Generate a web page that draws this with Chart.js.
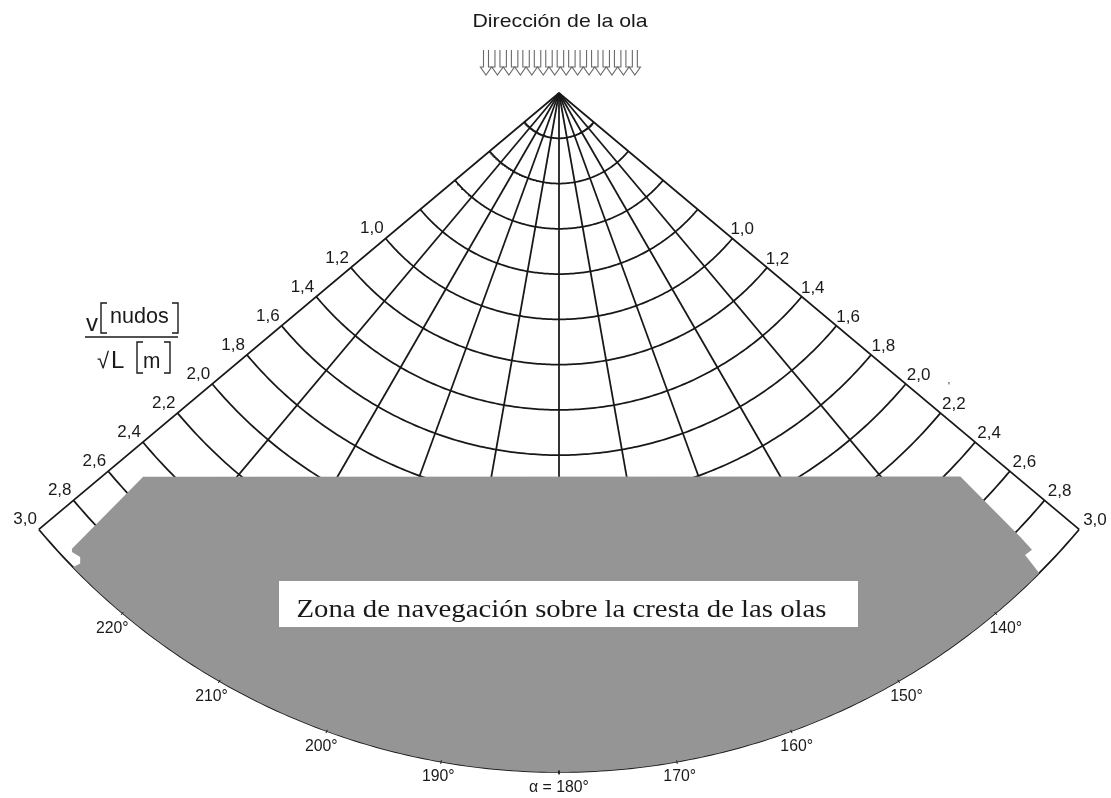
<!DOCTYPE html>
<html>
<head>
<meta charset="utf-8">
<script src="https://cdn.jsdelivr.net/npm/chart.js@4/dist/chart.umd.min.js"></script>
<style>
  html, body { margin: 0; background: #fff; }
  #wrap { width: 1111px; height: 798px; position: relative; }
</style>
</head>
<body>
<div id="wrap"><canvas id="polar"></canvas></div>
<script>
// v/sqrt(L) rings (knots / sqrt(m)) and heading lines (deg, 180 = wave from astern)
var ringValues = [0.2, 0.4, 0.6, 0.8, 1.0, 1.2, 1.4, 1.6, 1.8, 2.0, 2.2, 2.4, 2.6, 2.8, 3.0];
var ringLabelValues = [1.0, 1.2, 1.4, 1.6, 1.8, 2.0, 2.2, 2.4, 2.6, 2.8, 3.0];
var ringLabels = ["1,0", "1,2", "1,4", "1,6", "1,8", "2,0", "2,2", "2,4", "2,6", "2,8", "3,0"];
var headingLines = [130, 140, 150, 160, 170, 180, 190, 200, 210, 220, 230];
var headingTicks = [140, 150, 160, 170, 180, 190, 200, 210, 220];
var headingLabels = ["140°", "150°", "160°", "170°", "α = 180°", "190°", "200°", "210°", "220°"];

// surf-riding zone outline (speed ratio, heading); two 3.0 points in a row follow the outer ring
var zoneSpeed   = [2.50, 2.947, 2.957, 2.946, 2.966, 3.0, 3.0, 2.90, 2.905, 2.829, 2.453];
var zoneHeading = [227.3, 226.9, 226.7, 225.9, 225.5, 225.7, 135.0, 134.75, 134.0, 133.9, 133.7];

var maxRing = 3.0;
var sectorFrom = 130, sectorTo = 230;

function toXY(r, a) {
	var t = (a - 180) * Math.PI / 180;
	return {x: -r * Math.sin(t), y: -r * Math.cos(t)};
}

function arcPts(r, a0, a1) {
	var n = Math.max(2, Math.ceil(Math.abs(a1 - a0) / 0.5));
	var pts = [];
	for (var i = 0; i <= n; i++) pts.push(toXY(r, a0 + (a1 - a0) * i / n));
	return pts;
}

function lineSet(data, order, width) {
	return {data: data, showLine: true, pointRadius: 0, borderColor: "#181818",
		borderWidth: width || 1.75, fill: false, tension: 0, order: order};
}

var datasets = [];
ringValues.forEach(r => datasets.push(lineSet(arcPts(r, sectorFrom, sectorTo), 3)));
headingLines.forEach(a => datasets.push(lineSet([toXY(0, a), toXY(maxRing, a)], 3)));

// zone polygon
var zonePts = [];
zoneSpeed.forEach((r, i) => {
	if (i > 0 && r == maxRing && zoneSpeed[i - 1] == maxRing) {
		arcPts(maxRing, zoneHeading[i - 1], zoneHeading[i]).slice(1).forEach(p => zonePts.push(p));
	} else {
		zonePts.push(toXY(r, zoneHeading[i]));
	}
});
zonePts.push(zonePts[0]);
datasets.push({data: zonePts, showLine: true, pointRadius: 0, borderWidth: 0,
	borderColor: "rgba(0,0,0,0)", backgroundColor: "#959595", fill: "shape", tension: 0, order: 2});

// small tick marks on the outer ring
headingTicks.forEach(a => datasets.push(lineSet([toXY(2.994, a), toXY(3.01, a)], 1, 1)));

// 1 unit = 226.33 px, apex at (559, 93)
var U = 226.33;

function txt(ctx, s, x, y, font, align, base, sx) {
	ctx.save();
	ctx.font = font;
	ctx.textAlign = align;
	ctx.textBaseline = base;
	ctx.translate(x, y);
	ctx.scale(sx || 1, 1);
	ctx.fillText(s, 0, 0);
	ctx.restore();
}

var annotate = {
	id: "annotate",
	afterDraw(chart) {
		var ctx = chart.ctx;
		var sx = chart.scales.x, sy = chart.scales.y;
		var px = (r, a) => { var p = toXY(r, a); return {x: sx.getPixelForValue(p.x), y: sy.getPixelForValue(p.y)}; };
		var sans = "'Liberation Sans', Arial, sans-serif";
		ctx.fillStyle = "#1a1a1a";

		// title + wave arrows
		txt(ctx, "Dirección de la ola", 560, 26.5, "19px " + sans, "center", "alphabetic", 1.12);
		ctx.save();
		ctx.strokeStyle = "#6a6a6a";
		ctx.lineWidth = 1.1;
		for (var i = 0; i < 14; i++) {
			var cx = 486 + i * 11.45;
			ctx.beginPath();
			ctx.moveTo(cx - 2.5, 50); ctx.lineTo(cx - 2.5, 67); ctx.lineTo(cx - 5.6, 67);
			ctx.lineTo(cx, 75); ctx.lineTo(cx + 5.6, 67); ctx.lineTo(cx + 2.5, 67); ctx.lineTo(cx + 2.5, 50);
			ctx.stroke();
		}
		ctx.restore();

		// ring labels on both edges
		ringLabelValues.forEach((r, i) => {
			var L = px(r, sectorTo), R = px(r, sectorFrom);
			txt(ctx, ringLabels[i], L.x - 2, L.y - 5, "17px " + sans, "right", "alphabetic");
			txt(ctx, ringLabels[i], R.x + (r - 1) * 3 - 2, R.y - 4, "17px " + sans, "left", "alphabetic");
		});
		txt(ctx, "'", 949, 390, "10px " + sans, "center", "alphabetic");

		// heading labels
		headingTicks.forEach((a, i) => {
			var p = px(maxRing, a);
			var dx = 16 * Math.sin((180 - a) * Math.PI / 180);
			txt(ctx, headingLabels[i], p.x + dx, p.y + 15, "17px " + sans, "center", "middle", 0.93);
		});

		// zone caption box
		ctx.fillStyle = "#fff";
		ctx.fillRect(279, 581, 579, 46);
		ctx.fillStyle = "#1a1a1a";
		var cap = "Zona de navegación sobre la cresta de las olas";
		ctx.font = "25px 'Liberation Serif', 'Times New Roman', serif";
		var w = ctx.measureText(cap).width;
		txt(ctx, cap, 296.5, 616.5, ctx.font, "left", "alphabetic", 530 / w);

		// axis quantity v[nudos] / sqrt(L)[m]
		txt(ctx, "v", 86, 331, "24px " + sans, "left", "alphabetic");
		txt(ctx, "nudos", 110, 323, "22px " + sans, "left", "alphabetic", 0.98);
		txt(ctx, "√", 97, 368, "22px " + sans, "left", "alphabetic");
		txt(ctx, "L", 111, 368, "24px " + sans, "left", "alphabetic");
		txt(ctx, "m", 143, 368, "22px " + sans, "left", "alphabetic", 0.95);
		ctx.save();
		ctx.strokeStyle = "#1a1a1a";
		ctx.lineWidth = 1.4;
		var bracket = (x0, x1, y0, y1) => {
			ctx.beginPath(); ctx.moveTo(x1, y0); ctx.lineTo(x0, y0); ctx.lineTo(x0, y1); ctx.lineTo(x1, y1); ctx.stroke();
		};
		bracket(101, 107, 303, 333);
		bracket(178, 172, 303, 333);
		bracket(137, 143, 342, 373);
		bracket(170, 164, 342, 373);
		ctx.lineWidth = 1.6;
		ctx.beginPath(); ctx.moveTo(85, 337); ctx.lineTo(178, 337); ctx.stroke();
		ctx.restore();
	}
};

new Chart(document.getElementById("polar"), {
	type: "scatter",
	data: {datasets: datasets},
	options: {
		responsive: true,
		maintainAspectRatio: false,
		animation: false,
		events: [],
		layout: {padding: 0},
		plugins: {legend: {display: false}, tooltip: {enabled: false}},
		scales: {
			x: {type: "linear", display: false, min: -559 / U, max: (1111 - 559) / U},
			y: {type: "linear", display: false, min: -(798 - 93) / U, max: 93 / U}
		}
	},
	plugins: [annotate]
});
</script>
</body>
</html>
